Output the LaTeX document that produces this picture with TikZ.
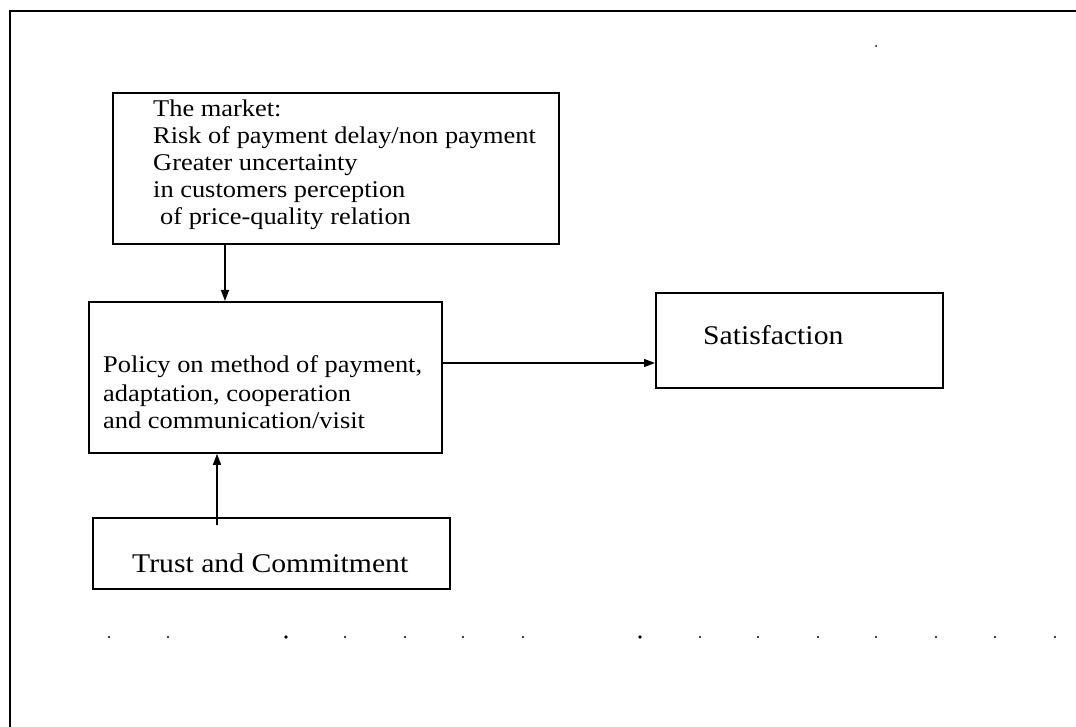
\documentclass[tikz,border=0pt]{standalone}
\usepackage{fontspec}
\setmainfont{Liberation Serif}[FakeStretch=1.1]
\usetikzlibrary{arrows.meta}
\begin{document}
\begin{tikzpicture}[x=1pt,y=-1pt,
  box/.style={draw,line width=1.8pt,inner sep=0pt,anchor=north west},
  txt/.style={anchor=base west,inner sep=0pt},
  small/.style={font=\fontsize{24}{27}\selectfont},
  large/.style={font=\fontsize{27}{30}\selectfont},
  link/.style={line width=1.4pt,-{Triangle[length=11pt,width=8pt]}},
  frame/.style={line width=2pt},
  speck/.style={fill=black,draw=none}]
\useasboundingbox (0,0) rectangle (1076,727);

% outer frame (top and left edges)
\draw[frame] (1076,11) -- (10,11) -- (10,727);

% boxes
\node[box,minimum width=446pt,minimum height=151pt] (market) at (112,92) {};
\node[box,minimum width=353pt,minimum height=151pt] (policy) at (88,301) {};
\node[box,minimum width=287pt,minimum height=95pt] (sat) at (655,292) {};
\node[box,minimum width=357pt,minimum height=71pt] (trust) at (92,517) {};

% box texts
\node[txt,small] (m1) at (153,117) {The market:};
\node[txt,small] (m2) at (153,144) {Risk of payment delay/non payment};
\node[txt,small] (m3) at (153,171) {Greater uncertainty};
\node[txt,small] (m4) at (153,198) {in customers perception};
\node[txt,small] (m5) at (160,225) {of price-quality relation};

\node[txt,small] (p1) at (103,372) {Policy on method of payment,};
\node[txt,small] (p2) at (103,401) {adaptation, cooperation};
\node[txt,small] (p3) at (103,428) {and communication/visit};

\node[txt,large] (s1) at (703,344) {Satisfaction};
\node[txt,large] (t1) at (132,572) {Trust and Commitment};

% connectors
\coordinate (down) at (225,0);
\coordinate (tstem) at (217,525);
\coordinate (level) at (0,363);
\draw[link] (market.south -| down) -- (policy.north -| down);
\draw[link] (tstem) -- (policy.south -| tstem);
\draw[link] (policy.east |- level) -- (sat.west |- level);

% row of specks
\foreach \x in {109,168,345,405,463,523,700,758,818,876,936,995,1055}
  \fill[speck] (\x,637) circle (1.1pt);
\foreach \x in {286,640}
  \fill[speck] (\x,637) circle (1.8pt);
\fill[speck] (876,46) circle (1pt);
\end{tikzpicture}
\end{document}
